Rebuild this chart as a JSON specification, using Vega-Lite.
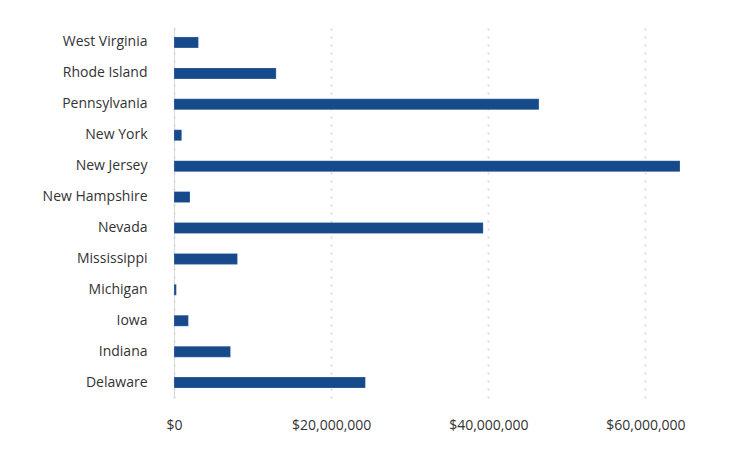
{
  "$schema": "https://vega.github.io/schema/vega-lite/v6.json",
  "width": 506,
  "height": 371,
  "autosize": {"type": "none"},
  "padding": {"left": 174, "top": 27, "right": 68, "bottom": 59},
  "background": "white",
  "config": {
    "view": {"stroke": null},
    "font": "Open Sans"
  },
  "data": {
    "values": [
      {"state": "West Virginia", "amount": 3110000},
      {"state": "Rhode Island", "amount": 13000000},
      {"state": "Pennsylvania", "amount": 46450000},
      {"state": "New York", "amount": 980000},
      {"state": "New Jersey", "amount": 64400000},
      {"state": "New Hampshire", "amount": 2040000},
      {"state": "Nevada", "amount": 39350000},
      {"state": "Mississippi", "amount": 8080000},
      {"state": "Michigan", "amount": 300000},
      {"state": "Iowa", "amount": 1830000},
      {"state": "Indiana", "amount": 7190000},
      {"state": "Delaware", "amount": 24360000}
    ]
  },
  "mark": {"type": "bar", "color": "#174a8b", "size": 11, "stroke": "#ffffff", "strokeOpacity": 0.4, "strokeWidth": 0.5},
  "encoding": {
    "y": {
      "field": "state",
      "type": "nominal",
      "sort": null,
      "axis": {
        "title": null,
        "ticks": false,
        "labelPadding": 27,
        "labelFontSize": 14,
        "labelColor": "#333333",
        "domainColor": "#d8d8d8",
        "domainWidth": 1,
        "grid": false
      }
    },
    "x": {
      "field": "amount",
      "type": "quantitative",
      "scale": {"domain": [0, 64400000], "nice": false},
      "axis": {
        "title": null,
        "values": [0, 20000000, 40000000, 60000000],
        "format": "$,.0f",
        "ticks": false,
        "domain": false,
        "labelFlush": false,
        "labelPadding": 20,
        "labelFontSize": 14,
        "labelColor": "#333333",
        "grid": true,
        "gridColor": "#dddddd",
        "gridWidth": 2,
        "gridDash": [2, 6]
      }
    }
  }
}
